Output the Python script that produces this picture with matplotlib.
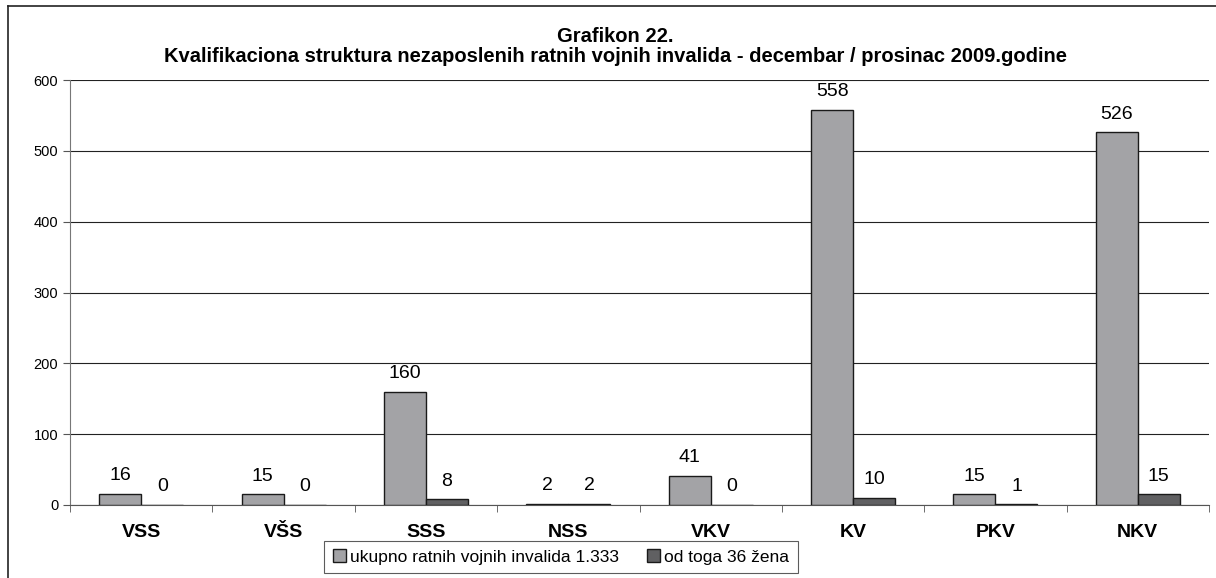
import matplotlib
matplotlib.use('Agg')

import matplotlib.pyplot as plt
from matplotlib.lines import Line2D
import numpy as np

categories = ['VSS', 'VŠS', 'SSS', 'NSS', 'VKV', 'KV', 'PKV', 'NKV']
ukupno = [16, 15, 160, 2, 41, 558, 15, 526]
zene = [0, 0, 8, 2, 0, 10, 1, 15]
series_names = ['ukupno ratnih vojnih invalida 1.333', 'od toga 36 žena']

plt.rcParams['font.family'] = ['Liberation Sans', 'DejaVu Sans']

fig = plt.figure(figsize=(12.16, 5.78), dpi=100)
ax = fig.add_axes([70 / 1216, 1 - 505 / 578, (1209 - 70) / 1216, (505 - 80) / 578])

x = np.arange(len(categories))
w = 0.295
b1 = ax.bar(x - w / 2, ukupno, w, color='#a3a3a6', edgecolor='#1a1a1a', linewidth=1.0,
            label=series_names[0], zorder=3)
b2 = ax.bar(x + w / 2, zene, w, color='#606062', edgecolor='#1a1a1a', linewidth=1.0,
            label=series_names[1], zorder=3)

for bars, vals in ((b1, ukupno), (b2, zene)):
    for rect, v in zip(bars, vals):
        ax.annotate(str(v), (rect.get_x() + rect.get_width() / 2, v),
                    xytext=(0, 7), textcoords='offset points',
                    ha='center', va='bottom', fontsize=14)

ax.set_xlim(-0.5, len(categories) - 0.5)
ax.set_ylim(0, 600)
ax.set_yticks(range(0, 601, 100))
ax.yaxis.grid(True, color='#222222', linewidth=0.8, zorder=0)
ax.set_axisbelow(True)

ax.set_xticks(x)
ax.set_xticklabels(categories, fontsize=14, fontweight='bold')
ax.tick_params(axis='x', length=0, pad=14)
ax.set_xticks(np.arange(-0.5, len(categories)), minor=True)
ax.tick_params(axis='x', which='minor', length=5, color='#555555', direction='out')
ax.tick_params(axis='y', labelsize=10.5, length=5, color='#555555')

for s in ['top', 'right']:
    ax.spines[s].set_visible(False)
ax.spines['left'].set_color('#777777')
ax.spines['bottom'].set_color('#555555')

cx = 615 / 1216
fig.text(cx, 1 - 36 / 578, 'Grafikon 22.', ha='center', va='center',
         fontsize=14.5, fontweight='bold')
fig.text(cx, 1 - 57 / 578,
         'Kvalifikaciona struktura nezaposlenih ratnih vojnih invalida - decembar / prosinac 2009.godine',
         ha='center', va='center', fontsize=14.5, fontweight='bold')

leg = fig.legend(handles=[b1, b2], loc='center', bbox_to_anchor=(561 / 1216, 1 - 557 / 578),
                 ncol=2, fontsize=12.5, frameon=True, fancybox=False, edgecolor='#333333',
                 handlelength=0.75, handleheight=0.75, handletextpad=0.25, columnspacing=1.6,
                 borderpad=0.5)
leg.get_frame().set_linewidth(0.8)

# outer frame (left and top edges)
fig.add_artist(Line2D([8 / 1216, 8 / 1216], [0, 1 - 6 / 578], color='#222222', linewidth=1.2))
fig.add_artist(Line2D([8 / 1216, 1], [1 - 6 / 578, 1 - 6 / 578], color='#222222', linewidth=1.2))

plt.savefig('out.png', dpi=100)
plt.close(fig)
